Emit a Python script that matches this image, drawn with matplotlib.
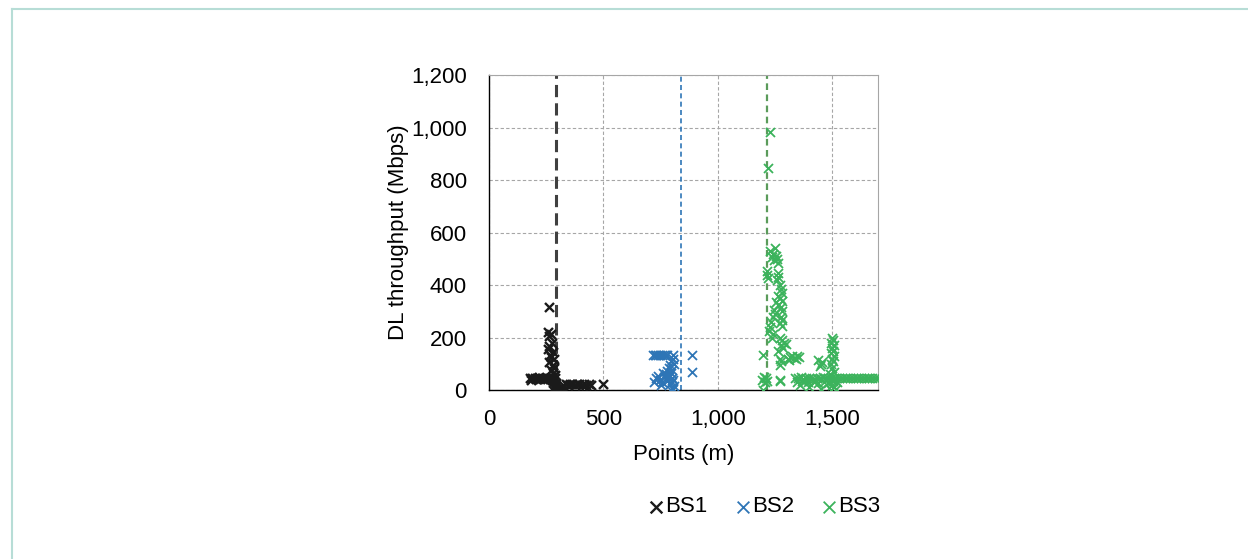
import numpy as np
import matplotlib.pyplot as plt
from matplotlib.ticker import FuncFormatter
from matplotlib.lines import Line2D

plt.rcParams['font.family'] = ['Liberation Sans', 'DejaVu Sans']

# BS1 points (m, Mbps)
bs1_x = [180, 190, 200, 210, 220, 230, 240, 250, 258, 266, 274, 282, 290,
         185, 205, 225, 245,
         262, 258, 270, 262, 275, 264, 258, 280, 268, 272, 284, 262, 278, 286, 270, 282, 290, 276, 286, 292, 290, 284, 278,
         295, 300, 305, 310, 315, 320,
         325, 335, 345, 355, 365, 375, 385, 395, 405, 415, 425, 435, 445,
         497]
bs1_y = [46, 45, 47, 44, 48, 46, 43, 47, 45, 42, 40, 38, 44,
         40, 42, 41, 43,
         318, 222, 212, 205, 180, 168, 155, 145, 135, 125, 118, 105, 95, 85, 75, 65, 58, 50, 35, 28, 15, 8, 0,
         5, 2, 0, 3, 8, 12,
         20, 22, 21, 23, 22, 20, 22, 23, 21, 22, 20, 22, 21,
         22]

# BS2 points
bs2_x = [716, 724, 732, 740, 748, 756, 764, 772, 780, 803,
         805, 795, 810, 790, 785, 800, 780, 795, 775, 770, 785, 800, 805, 780, 800, 790, 810, 800, 805, 795,
         730, 722, 740, 748, 760, 765, 755, 750,
         886, 886]
bs2_y = [134, 133, 135, 132, 134, 133, 135, 132, 134, 133,
         120, 112, 100, 95, 85, 78, 72, 65, 60, 55, 50, 45, 40, 35, 30, 22, 15, 8, 2, 0,
         45, 30, 55, 40, 65, 50, 30, 20,
         133, 70]

# BS3 points
bs3_x = [1227, 1218,
         1230, 1240, 1250, 1255, 1260, 1245, 1265, 1235,
         1215, 1215, 1218, 1262, 1265, 1260,
         1270, 1275, 1280, 1265, 1270, 1280, 1255, 1265, 1275, 1245, 1280, 1250, 1275, 1280, 1270, 1280, 1240, 1232, 1230, 1225, 1240, 1235,
         1270, 1280, 1290, 1275, 1285, 1300, 1265,
         1197, 1272, 1275, 1270,
         1305, 1315, 1325, 1335, 1345, 1355, 1310, 1340,
         1200, 1210, 1215, 1205, 1195, 1197, 1270, 1272,
         1360, 1400, 1420, 1450, 1440, 1380,
         1440, 1450, 1445, 1455,
         1500, 1505, 1495, 1510, 1500, 1505, 1495, 1510, 1500, 1505, 1495, 1500, 1510, 1490, 1500, 1510, 1495, 1515, 1520, 1505,
         1338, 1350, 1362, 1374, 1386, 1398, 1410, 1422, 1434, 1446, 1458, 1470, 1482, 1494, 1506, 1518,
         1530, 1542, 1554, 1566, 1578, 1590, 1602, 1614, 1626, 1638, 1650, 1662, 1674, 1686, 1698,
         1345, 1370, 1395, 1425, 1465, 1480]
bs3_y = [983, 846,
         530, 520, 540, 510, 500, 495, 485, 505,
         455, 440, 425, 445, 430, 420,
         400, 385, 370, 360, 350, 340, 335, 325, 315, 305, 300, 290, 280, 265, 255, 245, 280, 260, 240, 225, 215, 200,
         200, 190, 180, 170, 160, 175, 150,
         133, 120, 110, 95,
         120, 125, 128, 122, 130, 125, 115, 118,
         50, 45, 35, 30, 40, 0, 40, 35,
         20, 10, 30, 5, 25, 35,
         115, 100, 90, 105,
         200, 190, 180, 170, 160, 150, 140, 130, 120, 110, 100, 85, 70, 60, 20, 10, 0, 5, 30, 35,
         46, 44, 48, 42, 46, 44, 47, 43, 46, 45, 48, 44, 46, 45, 47, 44,
         46, 45, 47, 45, 46, 45, 47, 45, 46, 45, 46, 45, 47, 45, 46,
         32, 36, 30, 34, 30, 28]

bs_lines = [293, 838, 1214]

fig = plt.figure(figsize=(12.48, 5.59), dpi=100)
ax = fig.add_axes([0.3918, 0.3023, 0.3117, 0.5635])

ax.grid(True, color='#a6a6a6', ls=(0, (3, 2)), lw=0.8, zorder=0)
ax.set_axisbelow(True)

ax.axvline(bs_lines[0], color='#404040', ls=(0, (4, 2)), lw=2.2, zorder=2)
ax.axvline(bs_lines[1], color='#2e75b6', ls=(0, (3, 2)), lw=1.2, zorder=2)
ax.axvline(bs_lines[2], color='#5b9b5b', ls=(0, (3, 2)), lw=1.6, zorder=2)

ax.scatter(bs1_x, bs1_y, marker='x', s=42, lw=1.7, color='#1a1a1a', label='BS1', zorder=3)
ax.scatter(bs2_x, bs2_y, marker='x', s=42, lw=1.3, color='#2e75b6', label='BS2', zorder=3)
ax.scatter(bs3_x, bs3_y, marker='x', s=42, lw=1.3, color='#3cb35c', label='BS3', zorder=3)

ax.set_xlim(0, 1700)
ax.set_ylim(0, 1200)
ax.set_xticks([0, 500, 1000, 1500])
ax.set_yticks(np.arange(0, 1201, 200))
fmt = FuncFormatter(lambda v, p: '{:,.0f}'.format(v))
ax.xaxis.set_major_formatter(fmt)
ax.yaxis.set_major_formatter(fmt)
ax.tick_params(axis='both', length=0, labelsize=16, colors='#000000')
ax.tick_params(axis='x', pad=14)
ax.tick_params(axis='y', pad=16)

for s in ['top', 'right']:
    ax.spines[s].set_color('#a6a6a6')
    ax.spines[s].set_linewidth(0.8)
for s in ['left', 'bottom']:
    ax.spines[s].set_color('#000000')
    ax.spines[s].set_linewidth(1.0)

ax.set_xlabel('Points (m)', fontsize=16)
ax.set_ylabel('DL throughput (Mbps)', fontsize=16)
ax.xaxis.set_label_coords(0.5, -0.17)
ax.yaxis.set_label_coords(-0.205, 0.5)

fig.legend(loc='center', bbox_to_anchor=(765 / 1248, 1 - 507 / 559), ncol=3,
           frameon=False, fontsize=16, handlelength=0.6, handletextpad=0.1,
           columnspacing=1.3, markerscale=1.3)

# outer frame
fig.add_artist(Line2D([12 / 1248, 12 / 1248], [0, 1 - 9 / 559], transform=fig.transFigure,
                      color='#b7ddd6', lw=1.5))
fig.add_artist(Line2D([12 / 1248, 1], [1 - 9 / 559, 1 - 9 / 559], transform=fig.transFigure,
                      color='#b7ddd6', lw=1.5))

fig.savefig('out.png', dpi=100)
